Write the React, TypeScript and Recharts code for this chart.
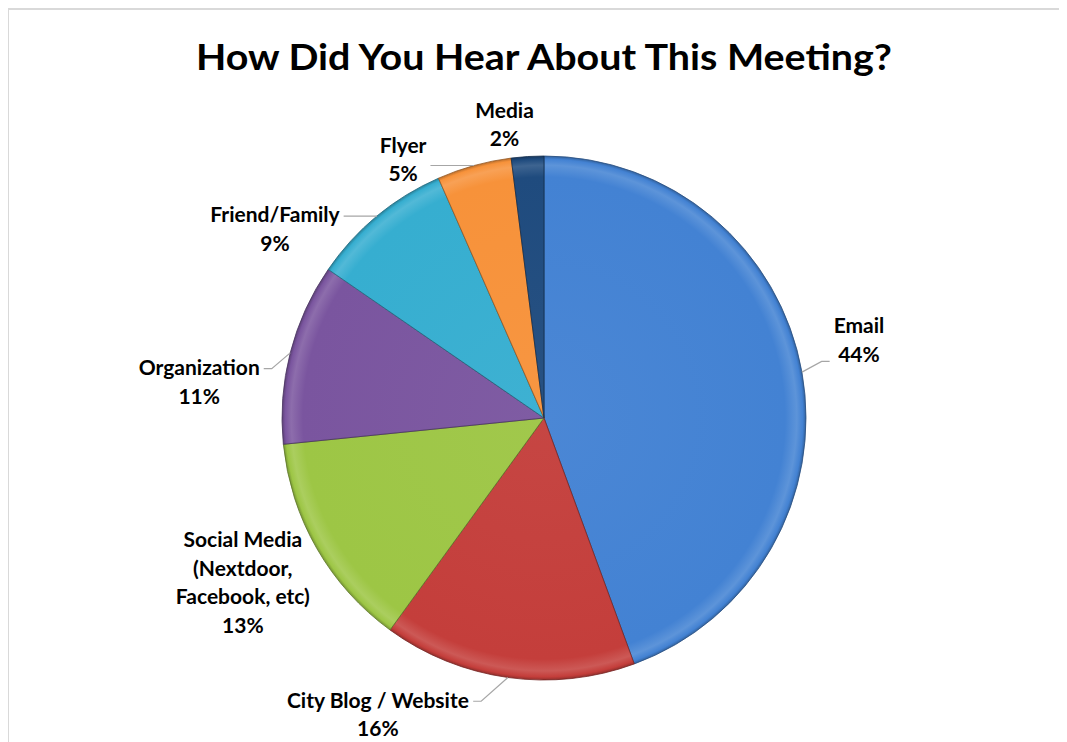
import React from 'react';
import { PieChart, Pie, Cell } from 'recharts';

// slices run clockwise from 12 o'clock
const CATEGORIES = [
  'Email',
  'City Blog / Website',
  'Social Media\n(Nextdoor,\nFacebook, etc)',
  'Organization',
  'Friend/Family',
  'Flyer',
  'Media',
];
const SHARES = [44.4, 15.6, 13.4, 11.2, 8.8, 4.6, 2.0];

const COLORS = ['#4382d3', '#c43e3b', '#9dc645', '#7a559f', '#36aed0', '#f7923a', '#1f4b7e'];

// label block centre, offset from the slice's outer midpoint
const LABEL_OFFSETS: [number, number][] = [
  [57, -32], [-130, 37], [-74, 34], [-91, 29], [-102, 13], [-71, -6], [-23, -32],
];

const W = 1059;
const H = 732;
const PIE_CX = 535;
const PIE_CY = 408;
const PIE_R = 262;
const FONT = 'Lato, "Open Sans", sans-serif';
const LABEL_SIZE = 21;
const LINE_H = 28.5;
const RAD = Math.PI / 180;

const data = CATEGORIES.map((name, i) => ({ name, value: SHARES[i] }));

function shade(hex: string, amt: number) {
  const n = parseInt(hex.slice(1), 16);
  const ch = [(n >> 16) & 255, (n >> 8) & 255, n & 255].map((v) =>
    Math.round(amt >= 0 ? v + (255 - v) * amt : v * (1 + amt))
  );
  return '#' + ch.map((v) => v.toString(16).padStart(2, '0')).join('');
}

let ctx: CanvasRenderingContext2D | null = null;
function textWidth(t: string) {
  if (!ctx) ctx = document.createElement('canvas').getContext('2d');
  if (!ctx) return t.length * LABEL_SIZE * 0.55;
  ctx.font = `bold ${LABEL_SIZE}px ${FONT}`;
  return ctx.measureText(t).width;
}

function renderLabel(props: any) {
  const { cx, cy, midAngle, outerRadius, index, percent } = props;
  const ex = cx + outerRadius * Math.cos(-midAngle * RAD);
  const ey = cy + outerRadius * Math.sin(-midAngle * RAD);
  const [ox, oy] = LABEL_OFFSETS[index];
  const bx = ex + ox;
  const by = ey + oy;
  const lines = [...CATEGORIES[index].split('\n'), `${Math.round(percent * 100)}%`];
  const w = Math.max(...lines.map(textWidth));
  const firstY = by - ((lines.length - 1) * LINE_H) / 2;
  const lastY = firstY + (lines.length - 1) * LINE_H;
  const left = bx - w / 2;
  const right = bx + w / 2;

  let leader: string | null = null;
  const ay = Math.min(Math.max(ey, firstY + 1), lastY + 7);
  if (ex > right + 14) {
    const ax = right + 4;
    if (ax + 8 < ex) leader = `M${ex},${ey}L${ax + 8},${ay}L${ax},${ay}`;
  } else if (ex < left - 14) {
    const ax = left - 4;
    if (ax - 8 > ex) leader = `M${ex},${ey}L${ax - 8},${ay}L${ax},${ay}`;
  }

  return (
    <g key={`lbl-${index}`}>
      {leader && <path d={leader} stroke="#a6a6a6" strokeWidth={1.2} fill="none" />}
      {lines.map((t, i) => (
        <text
          key={i}
          x={bx}
          y={firstY + i * LINE_H + LABEL_SIZE * 0.36}
          textAnchor="middle"
          fontFamily={FONT}
          fontWeight="bold"
          fontSize={LABEL_SIZE}
          fill="#000"
        >
          {t}
        </text>
      ))}
    </g>
  );
}

export default function App() {
  return (
    <div
      style={{
        position: 'relative',
        marginLeft: -1,
        width: W + 20,
        height: H,
        borderTop: '2px solid #d9d9d9',
        borderLeft: '2px solid #d9d9d9',
        background: '#fff',
      }}
    >
      <style>{'body{overflow:hidden} .recharts-pie-sectors{filter:drop-shadow(2px 4px 4px rgba(0,0,0,0.3))}'}</style>
      <svg width={0} height={0} style={{ position: 'absolute' }}>
        <defs>
          {COLORS.map((c, i) => (
            <radialGradient
              key={i}
              id={`bevel${i}`}
              gradientUnits="userSpaceOnUse"
              cx={PIE_CX}
              cy={PIE_CY}
              r={PIE_R}
            >
              <stop offset="0%" stopColor={shade(c, 0.04)} />
              <stop offset="92%" stopColor={c} />
              <stop offset="96.5%" stopColor={shade(c, 0.14)} />
              <stop offset="98.8%" stopColor={c} />
              <stop offset="100%" stopColor={shade(c, -0.25)} />
            </radialGradient>
          ))}
        </defs>
      </svg>
      <PieChart width={W} height={H} margin={{ top: 0, right: 0, bottom: 0, left: 0 }}>
        <Pie
          data={data}
          dataKey="value"
          nameKey="name"
          cx={PIE_CX}
          cy={PIE_CY}
          outerRadius={PIE_R}
          startAngle={90}
          endAngle={-270}
          label={renderLabel}
          labelLine={false}
          isAnimationActive={false}
        >
          {data.map((d, i) => (
            <Cell key={d.name} fill={`url(#bevel${i})`} stroke={shade(COLORS[i], -0.4)} strokeWidth={0.8} />
          ))}
        </Pie>
      </PieChart>
      <svg width={W} height={100} style={{ position: 'absolute', left: 0, top: 0, pointerEvents: 'none' }}>
        <text
          x={PIE_CX}
          y={60}
          textAnchor="middle"
          fontFamily={FONT}
          fontWeight="bold"
          fontSize={37}
          textLength={696}
          lengthAdjust="spacingAndGlyphs"
          fill="#000"
        >
          How Did You Hear About This Meeting?
        </text>
      </svg>
    </div>
  );
}
